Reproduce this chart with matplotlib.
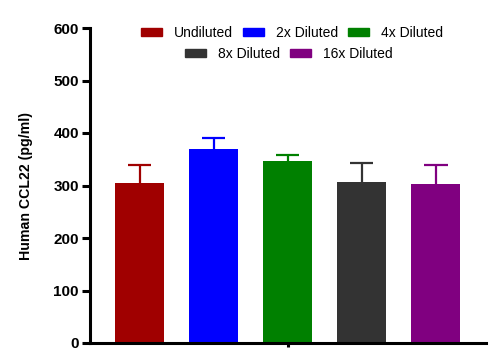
import matplotlib.pyplot as plt
import matplotlib.patches as mpatches

plt.rcParams['font.family'] = ['Liberation Sans', 'DejaVu Sans']

# data
groups = ['Undiluted', '2x Diluted', '4x Diluted', '8x Diluted', '16x Diluted']
means = [304, 370, 347, 307, 303]
upper_err = [35, 20, 11, 35, 37]
colors = ['#a00000', '#0000ff', '#008000', '#333333', '#800080']
yticks = [0, 100, 200, 300, 400, 500, 600]

fig = plt.figure(figsize=(4.94, 3.61), dpi=100)
ax = fig.add_axes([90 / 494, 1 - 343 / 361, 396 / 494, 315 / 361])

pos = list(range(len(groups)))
tops = [m + e for m, e in zip(means, upper_err)]
ax.bar(pos, means, width=0.66, color=colors, zorder=2)
# upper-only error bars
ax.vlines(pos, means, tops, colors=colors, linewidth=1.6, zorder=1)
ax.hlines(tops, [p - 0.16 for p in pos], [p + 0.16 for p in pos],
          colors=colors, linewidth=1.6, zorder=1)

ax.set_ylim(0, 600)
ax.set_xlim(-0.669, 4.68)
ax.set_yticks(yticks)
ax.set_xticks([2])
ax.set_xticklabels([''])

for s in ['top', 'right']:
    ax.spines[s].set_visible(False)
for s in ['left', 'bottom']:
    ax.spines[s].set_linewidth(2.2)
ax.tick_params(axis='y', width=2.2, length=6, labelsize=11, pad=2)
ax.tick_params(axis='x', width=2.2, length=3)
for lab in ax.get_yticklabels():
    lab.set_fontweight('bold')

ax.set_ylabel('Human CCL22 (pg/ml)', fontsize=10.2, fontweight='bold', labelpad=15)

handles = [mpatches.Patch(color=c, label=g) for c, g in zip(colors, groups)]
leg_kw = dict(frameon=False, fontsize=10, handlelength=1.5, handleheight=0.5,
              columnspacing=0.75, handletextpad=0.85, loc='center')
leg1 = ax.legend(handles=handles[:3], ncol=3, bbox_to_anchor=(0.51, 0.985), **leg_kw)
ax.add_artist(leg1)
ax.legend(handles=handles[3:], ncol=2, bbox_to_anchor=(0.502, 0.919), **leg_kw)

fig.savefig('out.png', dpi=100)
